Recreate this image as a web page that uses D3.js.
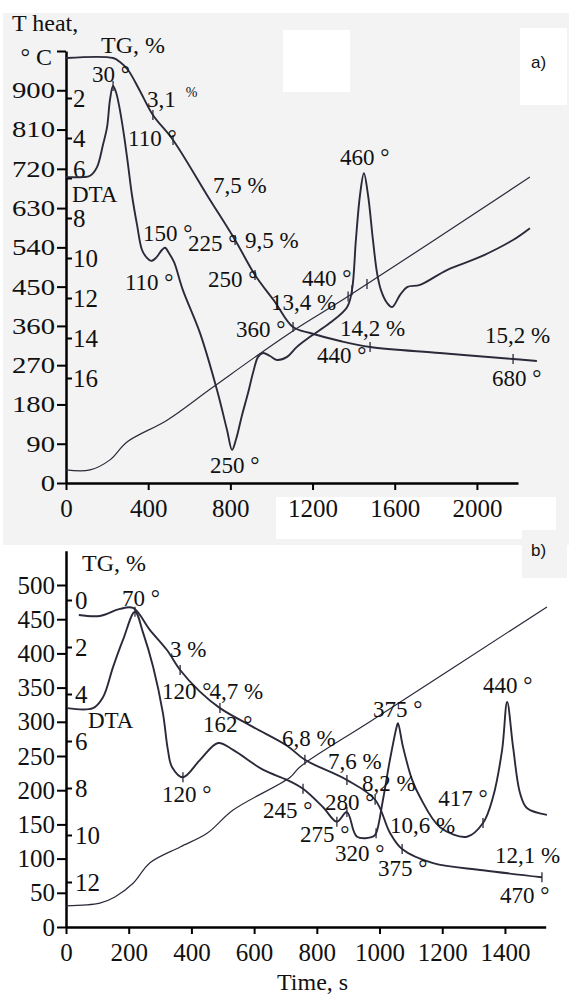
<!DOCTYPE html>
<html>
<head>
<meta charset="utf-8">
<script src="https://cdn.jsdelivr.net/npm/d3@7"></script>
<style>
body { margin: 0; background: #fff; }
svg text { font-family: "Liberation Serif", "Times New Roman", serif; fill: #111; }
</style>
</head>
<body>
<script>
// panel a) : time (s), heat temperature (deg C), TG (%), DTA (drawn on the temperature scale)
var heatA = [[0,30],[117,30],[214,53],[297,94],[492,144],[716,220],[1090,344],[1368,426],[2258,701]];
var tgA = [[0,0],[229,0],[263,0.2],[302,0.6],[360,1.65],[423,2.85],[521,4.1],[686,6.85],[823,9.1],
  [920,10.85],[1017,12.2],[1105,13.45],[1188,13.75],[1334,14.15],[1480,14.45],[1820,14.75],[2176,15.05],[2292,15.15]];
var dtaA = [[0,701],[83,701],[117,704],[151,724],[180,775],[200,816],[214,878],[229,910],[243,896],[258,866],
  [282,798],[302,729],[321,660],[346,591],[370,534],[394,516],[414,509],[438,516],[467,534],[482,539],
  [501,527],[526,506],[569,442],[652,344],[735,213],[784,121],[808,76],[827,99],[857,156],[886,206],
  [910,252],[935,289],[959,298],[993,291],[1027,282],[1076,289],[1124,312],[1188,335],[1285,367],[1368,403],
  [1392,442],[1411,557],[1431,660],[1450,710],[1470,660],[1494,557],[1514,481],[1533,442],[1562,413],[1587,403],
  [1626,431],[1660,449],[1723,454],[1854,488],[2015,518],[2176,557],[2258,584]];

// panel b)
var heatB = [[0,31],[108,35],[156,44],[214,64],[268,94],[364,117],[450,137],[533,171],[715,219],[746,234],[979,303],[1534,468]];
var tgB = [[41,0.64],[108,0.68],[172,0.38],[214,0.34],[268,1.28],[322,2.13],[364,2.98],[427,3.9],[491,4.6],
  [596,5.4],[705,6.2],[762,6.8],[896,7.66],[986,8.5],[1033,9.9],[1072,10.6],[1171,11.2],[1330,11.5],[1518,11.8]];
var dtaB = [[3,320],[86,320],[118,336],[150,380],[182,420],[220,461],[246,430],[278,380],[309,313],[325,259],
  [338,234],[373,219],[427,244],[485,269],[533,259],[628,230],[705,215],[756,202],[820,175],[864,154],
  [896,168],[928,132],[979,132],[989,137],[1011,186],[1033,244],[1056,295],[1059,298],[1075,263],[1104,215],
  [1129,190],[1193,146],[1279,132],[1330,152],[1362,190],[1391,259],[1407,329],[1426,263],[1448,196],[1470,174],[1534,164]];

// axis ticks
var timeTicksA = [0, 400, 800, 1200, 1600, 2000];
var tempTicksA = [0, 90, 180, 270, 360, 450, 540, 630, 720, 810, 900, 990];
var tgTicksA = [2, 4, 6, 8, 10, 12, 14, 16];
var timeTicksB = [0, 200, 400, 600, 800, 1000, 1200, 1400];
var tempTicksB = [0, 50, 100, 150, 200, 250, 300, 350, 400, 450, 500];
var tgTicksB = [0, 2, 4, 6, 8, 10, 12];

// annotations: text, time, temperature
var notesA = [["30 °",127,918],["110 °",302,772],["7,5 %",715,665],["150 °",375,555],["225 °",594,532],
  ["9,5 %",871,539],["110 °",287,442],["250 °",691,449],["13,4 %",998,397],["440 °",1149,451],["360 °",827,335],
  ["460 °",1334,729],["14,2 %",1334,337],["440 °",1222,275],["15,2 %",2039,321],["680 °",2073,222],
  ["250 °",701,23],["DTA",29,644]];
var notesB = [["70 °",179,469],["3 %",332,395],["120 °",306,333],["4,7 %",458,333],["162 °",437,285],
  ["120 °",306,183],["DTA",70,291],["6,8 %",689,265],["7,6 %",836,231],["8,2 %",944,199],["245 °",628,159],
  ["280 °",826,171],["275 °",746,124],["320 °",858,97],["10,6 %",1033,137],["375 °",995,75],["417 °",1187,177],
  ["375 °",979,307],["440 °",1330,342],["12,1 %",1368,94],["470 °",1384,35]];

// little marks on the curves (times)
var tgMarksA = [423, 521, 823, 920, 1105, 1480, 2176];
var dtaMarksA = [229, 1392];
var heatMarksA = [1373, 1465];
var tgMarksB = [364, 491, 762, 896, 986, 1072, 1518];
var dtaMarksB = [220, 373, 756, 864, 896, 989, 1330];

var ink = '#2a2a3a';
var serif = '"Liberation Serif", "Times New Roman", serif';

var svg = d3.select('body').append('svg')
    .attr('width', 569)
    .attr('height', 995);

// scanned page background
svg.append('rect').attr('x', 3).attr('y', 13).attr('width', 566).attr('height', 532).attr('fill', '#f3f3f3');
svg.append('rect').attr('x', 283).attr('y', 30).attr('width', 67).attr('height', 62).attr('fill', '#fff');
svg.append('rect').attr('x', 520).attr('y', 28).attr('width', 47).attr('height', 77).attr('fill', '#fff');
svg.append('rect').attr('x', 276).attr('y', 497).attr('width', 280).attr('height', 42).attr('fill', '#fff');
svg.append('rect').attr('x', 522).attr('y', 530).attr('width', 45).attr('height', 48).attr('fill', '#f3f3f3');

var xA = d3.scaleLinear().domain([0, 2200]).range([66, 518]);
var yA = d3.scaleLinear().domain([0, 990]).range([483, 51]);
var pA = d3.scaleLinear().domain([0, 16]).range([58, 378]);

var xB = d3.scaleLinear().domain([0, 1530]).range([66, 545.7]);
var yB = d3.scaleLinear().domain([0, 550]).range([927, 550.8]);
var pB = d3.scaleLinear().domain([0, 12]).range([600, 882]);

function valueAt(s, t) {
  var i = d3.bisector(d => d[0]).right(s, t);
  if (i <= 0) return s[0][1];
  if (i >= s.length) return s[s.length - 1][1];
  var a = s[i - 1], b = s[i];
  return a[1] + (b[1] - a[1]) * (t - a[0]) / (b[0] - a[0]);
}

function styleAxis(g, size) {
  g.attr('font-family', null).attr('font-size', null);
  g.selectAll('text').style('font-family', serif).attr('font-size', size || 25);
  g.select('.domain').attr('stroke', '#000').attr('stroke-width', 2.5);
  g.selectAll('.tick line').attr('stroke', '#000').attr('stroke-width', 2);
}

function curve(x, y, data, w) {
  svg.append('path')
    .datum(data)
    .attr('fill', 'none')
    .attr('stroke', ink)
    .attr('stroke-width', w)
    .attr('stroke-linejoin', 'round')
    .attr('d', d3.line().x(d => x(d[0])).y(d => y(d[1])).curve(d3.curveCatmullRom.alpha(0.5)));
}

function marks(x, y, data, times) {
  svg.selectAll(null).data(times).enter().append('line')
    .attr('x1', d => x(d)).attr('x2', d => x(d))
    .attr('y1', d => y(valueAt(data, d)) - 5)
    .attr('y2', d => y(valueAt(data, d)) + 5)
    .attr('stroke', ink).attr('stroke-width', 1.3);
}

function notes(x, y, list) {
  svg.selectAll(null).data(list).enter().append('text')
    .attr('x', d => x(d[1]))
    .attr('y', d => y(d[2]))
    .attr('font-size', 23)
    .text(d => d[0]);
}

var fmt = d3.format('d');

// ---------- panel a ----------
svg.append('g').attr('transform', 'translate(0,483)')
  .call(d3.axisBottom(xA).tickValues(timeTicksA).tickSize(7).tickPadding(9).tickSizeOuter(0).tickFormat(fmt))
  .call(styleAxis);
svg.append('g').attr('transform', 'translate(66,0)')
  .call(d3.axisLeft(yA).tickValues(tempTicksA).tickSize(9).tickPadding(2).tickSizeOuter(0)
    .tickFormat(d => d > 900 ? '' : fmt(d)))
  .call(g => styleAxis(g, 23))
  // the left scale of panel a is printed with wide digits
  .call(g => g.selectAll('.tick text').attr('x', -11 / 1.25).attr('transform', 'scale(1.25,1)'));
svg.append('g').attr('transform', 'translate(66,0)')
  .call(d3.axisRight(pA).tickValues(tgTicksA).tickSize(6).tickPadding(1))
  .call(styleAxis)
  .call(g => g.select('.domain').remove())
  .call(g => g.selectAll('.tick').filter(d => d === 6).select('text').attr('y', -9));

curve(xA, yA, heatA, 1.2);
curve(xA, pA, tgA, 1.9);
curve(xA, yA, dtaA, 1.9);
marks(xA, pA, tgA, tgMarksA);
marks(xA, yA, dtaA, dtaMarksA);
marks(xA, yA, heatA, heatMarksA);
notes(xA, yA, notesA);

svg.append('text').attr('x', 12).attr('y', 31).attr('font-size', 24).text('T heat,');
svg.append('text').attr('x', 52).attr('y', 65).attr('font-size', 24).attr('text-anchor', 'end').text('° C');
svg.append('text').attr('x', 101).attr('y', 53).attr('font-size', 24).text('TG, %');
var t31 = svg.append('text').attr('x', xA(394)).attr('y', yA(862)).attr('font-size', 23).text('3,1');
t31.append('tspan').attr('dx', 10).attr('dy', -10).attr('font-size', 14).text('%');
svg.append('text').attr('x', 531).attr('y', 68).attr('font-size', 17)
  .style('font-family', 'Arial, "Liberation Sans", sans-serif').text('a)');

// ---------- panel b ----------
svg.append('g').attr('transform', 'translate(0,927)')
  .call(d3.axisBottom(xB).tickValues(timeTicksB).tickSize(7).tickPadding(9).tickSizeOuter(0).tickFormat(fmt))
  .call(styleAxis);
svg.append('g').attr('transform', 'translate(66,0)')
  .call(d3.axisLeft(yB).tickValues(tempTicksB).tickSize(9).tickPadding(2).tickSizeOuter(0).tickFormat(fmt))
  .call(styleAxis);
svg.append('g').attr('transform', 'translate(66,0)')
  .call(d3.axisRight(pB).tickValues(tgTicksB).tickSize(6).tickPadding(3))
  .call(styleAxis)
  .call(g => g.select('.domain').remove());

curve(xB, yB, heatB, 1.2);
curve(xB, pB, tgB, 1.9);
curve(xB, yB, dtaB, 1.9);
marks(xB, pB, tgB, tgMarksB);
marks(xB, yB, dtaB, dtaMarksB);
notes(xB, yB, notesB);

svg.append('text').attr('x', 82).attr('y', 571).attr('font-size', 24).text('TG, %');
svg.append('text').attr('x', 277).attr('y', 990).attr('font-size', 24).text('Time, s');
svg.append('text').attr('x', 531).attr('y', 556).attr('font-size', 17)
  .style('font-family', 'Arial, "Liberation Sans", sans-serif').text('b)');
</script>
</body>
</html>
